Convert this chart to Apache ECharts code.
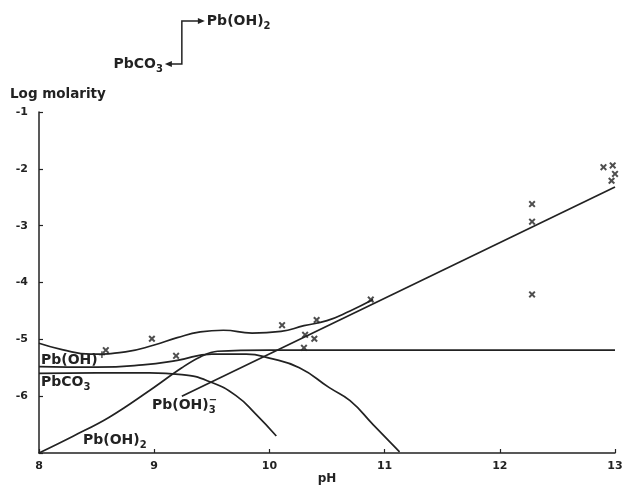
<!DOCTYPE html>
<html>
<head>
<meta charset="utf-8">
<script src="https://cdn.jsdelivr.net/npm/echarts@6/dist/echarts.min.js"></script>
<style>
html, body { margin: 0; padding: 0; background: #fff; }
#chart { width: 626px; height: 486px; }
</style>
</head>
<body>
<div id="chart"></div>
<script>
// values (pH, log molarity)
var totalCurve = [[8.0, -5.07], [8.2, -5.18], [8.45, -5.26], [8.75, -5.22], [9.0, -5.1], [9.2, -4.97], [9.4, -4.87],
    [9.6, -4.84], [9.85, -4.89], [10.1, -4.86], [10.3, -4.76], [10.5, -4.67], [10.7, -4.5], [10.9, -4.3]];
var pbOHplus = [[8.0, -5.48], [8.5, -5.49], [8.9, -5.45], [9.2, -5.37], [9.5, -5.26], [9.8, -5.26], [10.0, -5.33],
    [10.26, -5.5], [10.52, -5.85], [10.7, -6.08], [10.9, -6.5], [11.13, -6.98]];
var pbCO3 = [[8.0, -5.6], [8.5, -5.59], [8.96, -5.59], [9.24, -5.62], [9.5, -5.76], [9.71, -5.99], [9.88, -6.31], [10.06, -6.7]];
var pbOH2 = [[8.0, -7.0], [8.3, -6.7], [8.61, -6.37], [8.96, -5.9], [9.24, -5.5], [9.4, -5.31], [9.55, -5.21],
    [10.0, -5.19], [13.0, -5.19]];
var pbOH3minus = [[9.24, -6.0], [13.0, -2.32]];
var measured = [[8.58, -5.19], [8.98, -4.99], [9.19, -5.29], [10.11, -4.75], [10.41, -4.66], [10.31, -4.92],
    [10.39, -4.99], [10.3, -5.15], [10.88, -4.3], [12.28, -2.62], [12.28, -2.93], [12.28, -4.21],
    [12.9, -1.97], [12.98, -1.94], [13.0, -2.09], [12.97, -2.21]];
var xRange = [8, 13];
var yRange = [-7, -1];
var boundaryPH = 9.24; // PbCO3 -> Pb(OH)2 switch shown above the plot

var ink = '#222';
var font = 'DejaVu Sans';
var chart = echarts.init(document.getElementById('chart'));

var rich = {
    b: { fontSize: 14, fontWeight: 'bold', fontFamily: font, fill: ink, color: ink, lineHeight: 20 },
    sub: { fontSize: 10, fontWeight: 'bold', fontFamily: font, fill: ink, color: ink, lineHeight: 10, verticalAlign: 'bottom' },
    sup: { fontSize: 10, fontWeight: 'bold', fontFamily: font, fill: ink, color: ink, lineHeight: 16, verticalAlign: 'top' },
    supz: { fontSize: 10, fontWeight: 'bold', fontFamily: font, fill: ink, color: ink, lineHeight: 10, verticalAlign: 'top', width: 0.1 }
};

function curve(data, smooth) {
    return {
        type: 'line',
        data: data,
        smooth: smooth,
        showSymbol: false,
        silent: true,
        lineStyle: { color: ink, width: 1.7 }
    };
}

var axisText = { color: ink, fontSize: 11, fontWeight: 'bold', fontFamily: font };

chart.setOption({
    animation: false,
    backgroundColor: '#fff',
    grid: { left: 39, right: 11, top: 112, bottom: 33, outerBoundsMode: 'none', containLabel: false },
    xAxis: {
        type: 'value', min: xRange[0], max: xRange[1], interval: 1,
        axisLine: { onZero: false, lineStyle: { color: ink, width: 1.5 } },
        axisTick: { inside: true, length: 4, lineStyle: { color: ink, width: 1.2 } },
        splitLine: { show: false },
        axisLabel: Object.assign({ margin: 8 }, axisText),
        name: 'pH', nameLocation: 'middle', nameGap: 20, nameMoveOverlap: false,
        nameTextStyle: Object.assign({}, axisText, { fontSize: 12 })
    },
    yAxis: {
        type: 'value', min: yRange[0], max: yRange[1], interval: 1,
        axisLine: { onZero: false, lineStyle: { color: ink, width: 1.5 } },
        axisTick: { inside: true, length: 4, lineStyle: { color: ink, width: 1.2 } },
        splitLine: { show: false },
        axisLabel: Object.assign({
            margin: 11,
            formatter: function (v) { return v === yRange[0] ? '' : String(v); }
        }, axisText)
    },
    series: [
        curve(totalCurve, 0.5),
        curve(pbOHplus, 0.5),
        curve(pbCO3, 0.5),
        curve(pbOH2, 0.4),
        curve(pbOH3minus, false),
        {
            type: 'scatter',
            data: measured,
            symbol: 'path://M0,2L2,0L5,3L8,0L10,2L7,5L10,8L8,10L5,7L2,10L0,8L3,5Z',
            symbolSize: 7,
            silent: true,
            itemStyle: { color: ink }
        }
    ]
});

var bx = chart.convertToPixel({ xAxisIndex: 0 }, boundaryPH);

function label(x, y, text, align) {
    return {
        type: 'text', x: x, y: y, silent: true,
        style: { text: text, rich: rich, align: align || 'left', verticalAlign: 'middle', fill: ink }
    };
}

chart.setOption({
    graphic: [
        { type: 'polyline', silent: true, shape: { points: [[bx + 17, 21], [bx, 21], [bx, 64], [bx - 11, 64]] },
          style: { stroke: ink, lineWidth: 1.5, fill: null } },
        { type: 'polygon', silent: true, shape: { points: [[bx + 16, 18], [bx + 23, 21], [bx + 16, 24]] }, style: { fill: ink } },
        { type: 'polygon', silent: true, shape: { points: [[bx - 10, 61], [bx - 17, 64], [bx - 10, 67]] }, style: { fill: ink } },
        label(bx + 25, 21, '{b|Pb(OH)}{sub|2}'),
        label(bx - 19, 64, '{b|PbCO}{sub|3}', 'right'),
        { type: 'text', x: 10, y: 94, silent: true,
          style: { text: 'Log molarity', fontSize: 13.5, fontWeight: 'bold', fontFamily: font, fill: ink, align: 'left', verticalAlign: 'middle' } },
        label(41, 360, '{b|Pb(OH)}{sup|+}'),
        label(41, 382, '{b|PbCO}{sub|3}'),
        label(152, 405, '{b|Pb(OH)}{supz|−}{sub|3}'),
        label(83, 440, '{b|Pb(OH)}{sub|2}')
    ]
});
</script>
</body>
</html>
